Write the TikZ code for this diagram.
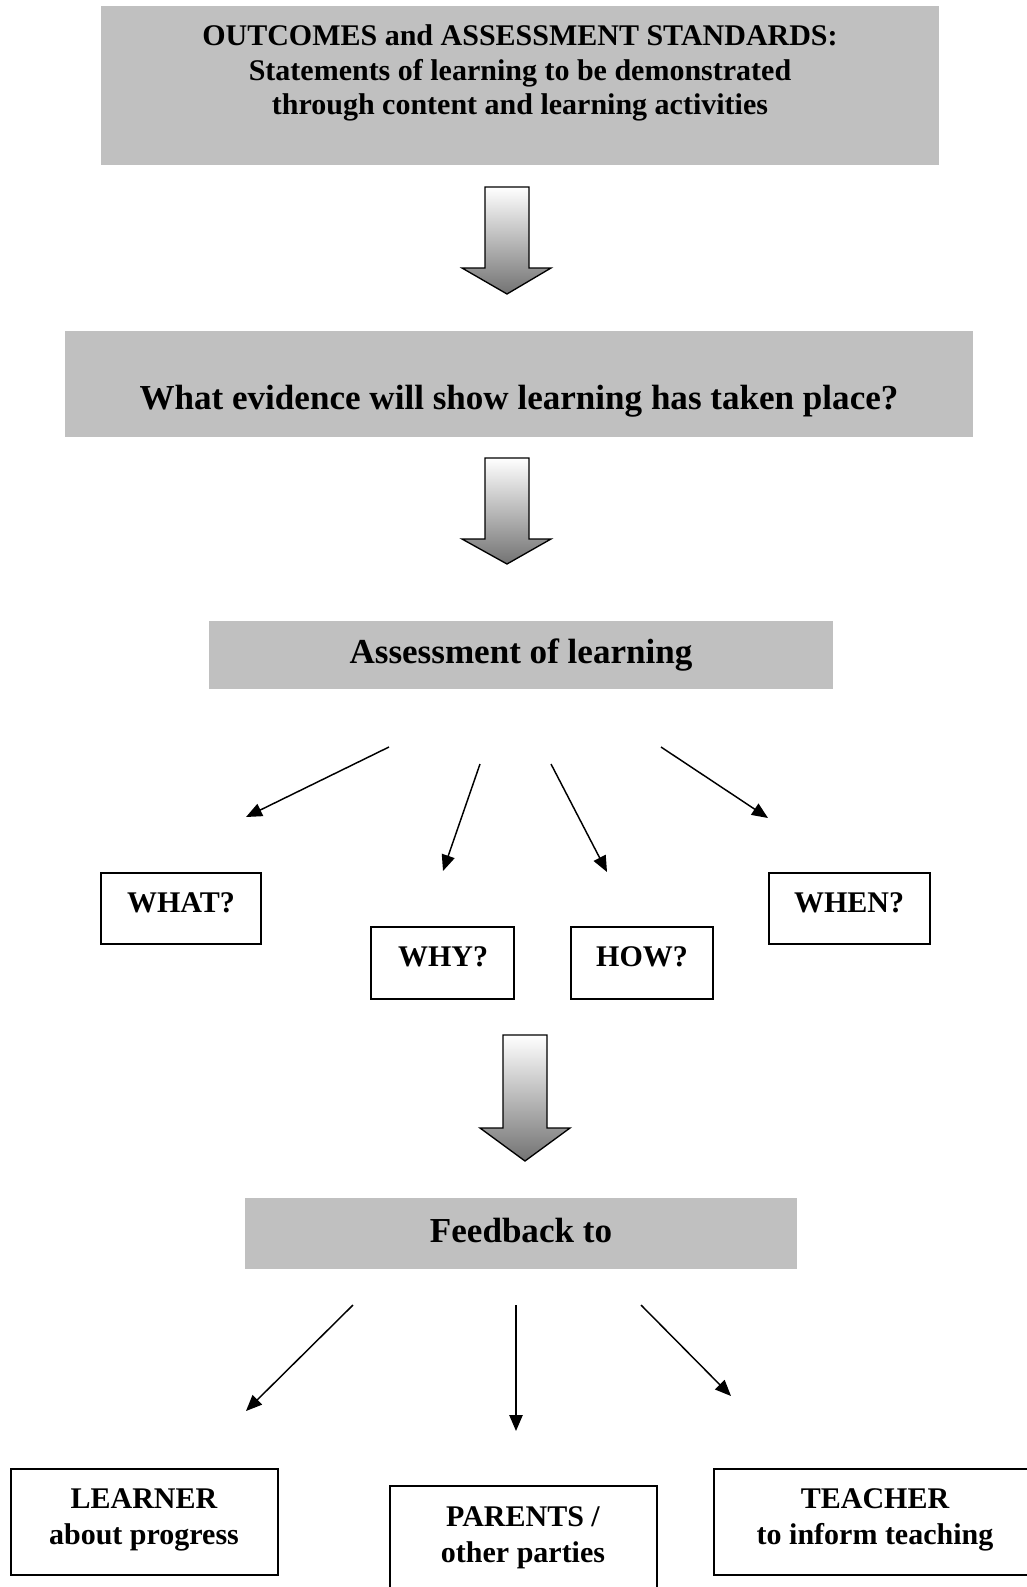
\documentclass[tikz,border=0pt]{standalone}
\usepackage{fontspec}
\setmainfont{Liberation Serif}
\usetikzlibrary{arrows.meta,fit}
\definecolor{boxgray}{RGB}{192,192,192}
\begin{document}
\begin{tikzpicture}[x=0.75pt,y=-0.75pt,
  graybox/.style={fill=boxgray, draw=none, inner sep=0pt},
  whitebox/.style={draw=black, line width=1.1pt, fill=white, inner sep=0pt},
  txt/.style={font=\bfseries\fontsize{22.5}{26}\selectfont, align=center, inner sep=0pt},
  bigtxt/.style={font=\bfseries\fontsize{26.3}{30}\selectfont, align=center, inner sep=0pt},
  thinarrow/.style={line width=1.1pt, -{Triangle[length=12pt,width=10pt]}},
  blockarrow/.style={draw=black, line width=1pt, top color=white, bottom color=black!55}]
\useasboundingbox (0,0) rectangle (1027,1587);
\clip (0,0) rectangle (1027,1587);
\fill[white] (0,0) rectangle (1027,1587);

% gray boxes
\node[graybox, fit={(101,6)(939,165)}] (outcomes) {};
\node[txt] (outcomesT) at (520,73) {OUTCOMES and ASSESSMENT STANDARDS:\\Statements of learning to be demonstrated\\through content and learning activities};

\node[graybox, fit={(65,331)(973,437)}] (evidence) {};
\node[bigtxt] (evidenceT) at (519,401) {What evidence will show learning has taken place?};

\node[graybox, fit={(209,621)(833,689)}] (assess) {};
\node[bigtxt] (assessT) at (521,655) {Assessment of learning};

\node[graybox, fit={(245,1198)(797,1269)}] (feedback) {};
\node[bigtxt] (feedbackT) at (521,1230) {Feedback to};

% block arrows
\path[blockarrow] (485,187) -- (529,187) -- (529,268) -- (551,268) -- (507,294) -- (462,268) -- (485,268) -- cycle;
\path[blockarrow] (485,458) -- (529,458) -- (529,539) -- (551,539) -- (507,564) -- (462,539) -- (485,539) -- cycle;
\path[blockarrow] (503,1035) -- (547,1035) -- (547,1128) -- (570,1128) -- (525,1161) -- (480,1128) -- (503,1128) -- cycle;

% question boxes
\node[whitebox, fit={(101,873)(261,944)}] (what) {};
\node[txt] (whatT) at (181,903) {WHAT?};
\node[whitebox, fit={(371,927)(514,999)}] (why) {};
\node[txt] (whyT) at (443,957) {WHY?};
\node[whitebox, fit={(571,927)(713,999)}] (how) {};
\node[txt] (howT) at (642,957) {HOW?};
\node[whitebox, fit={(769,873)(930,944)}] (when) {};
\node[txt] (whenT) at (849,903) {WHEN?};

% thin arrows (free-floating)
\coordinate (a1s) at (389,747); \coordinate (a1e) at (246,817);
\coordinate (a2s) at (480,764); \coordinate (a2e) at (443,871);
\coordinate (a3s) at (551,764); \coordinate (a3e) at (607,872);
\coordinate (a4s) at (661,747); \coordinate (a4e) at (768,818);
\draw[thinarrow] (a1s) -- (a1e);
\draw[thinarrow] (a2s) -- (a2e);
\draw[thinarrow] (a3s) -- (a3e);
\draw[thinarrow] (a4s) -- (a4e);

\coordinate (b1s) at (353,1305); \coordinate (b1e) at (246,1411);
\coordinate (b2s) at (516,1305); \coordinate (b2e) at (516,1431);
\coordinate (b3s) at (641,1305); \coordinate (b3e) at (731,1396);
\draw[thinarrow] (b1s) -- (b1e);
\draw[thinarrow] (b2s) -- (b2e);
\draw[thinarrow] (b3s) -- (b3e);

% bottom boxes
\node[whitebox, fit={(11,1469)(278,1575)}] (learner) {};
\node[txt, font=\bfseries\fontsize{22.5}{27.3}\selectfont] (learnerT) at (144,1520) {LEARNER\\about progress};
\node[whitebox, fit={(390,1486)(657,1600)}] (parents) {};
\node[txt, font=\bfseries\fontsize{22.5}{27.3}\selectfont] (parentsT) at (523,1538) {PARENTS /\\other parties};
\node[whitebox, fit={(714,1469)(1040,1575)}] (teacher) {};
\node[txt, font=\bfseries\fontsize{22.5}{27.3}\selectfont] (teacherT) at (875,1520) {TEACHER\\to inform teaching};
\end{tikzpicture}
\end{document}
